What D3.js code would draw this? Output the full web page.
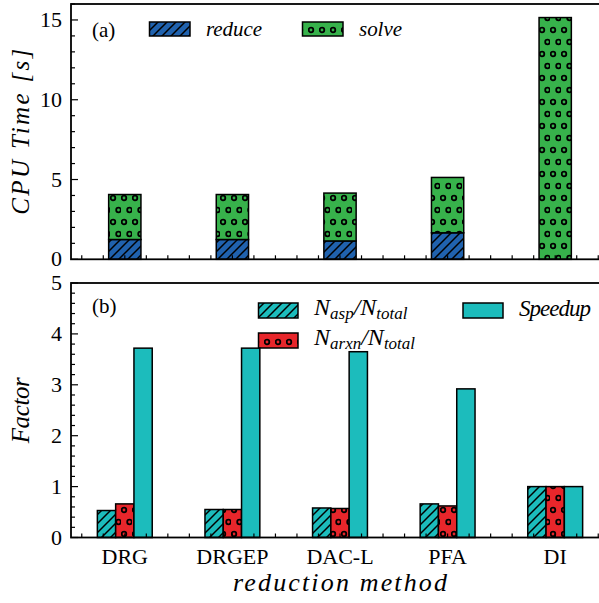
<!DOCTYPE html>
<html lang="en">
<head>
  <meta charset="UTF-8">
  <title>CPU time and speedup by reduction method</title>
  <script src="https://d3js.org/d3.v7.min.js"></script>
</head>
<body style="margin:0">
  <svg id="viz" width="599" height="603"></svg>

  <script>
    // data
    const methods = ["DRG", "DRGEP", "DAC-L", "PFA", "DI"];
    const reduceTime = [1.24, 1.24, 1.15, 1.66, 0];
    const solveTime = [2.82, 2.82, 3.0, 3.47, 15.15];
    const aspRatio = [0.53, 0.55, 0.58, 0.66, 1.0];
    const arxnRatio = [0.66, 0.55, 0.57, 0.62, 1.0];
    const speedup = [3.72, 3.72, 3.65, 2.92, 1.0];
    const topTicks = [0, 5, 10, 15];
    const botTicks = [0, 1, 2, 3, 4, 5];

    const colors = { blue: "#2062ae", green: "#37b24b", cyan: "#1cbcbc", red: "#e8262b" };
    const FONT = '"Liberation Serif"';

    const svg = d3.select("#viz");
    const defs = svg.append("defs");

    // hatch patterns (matplotlib-like "//" and "o")
    function hatchPattern(id, bg) {
      const p = defs.append("pattern").attr("id", id)
        .attr("patternUnits", "userSpaceOnUse").attr("width", 9).attr("height", 9);
      p.append("rect").attr("width", 9).attr("height", 9).attr("fill", bg);
      p.append("path").attr("d", "M-1,1 l2,-2 M0,9 l9,-9 M8,10 l2,-2")
        .attr("stroke", "#000").attr("stroke-width", 1.5);
    }
    function dotPattern(id, bg) {
      const p = defs.append("pattern").attr("id", id)
        .attr("patternUnits", "userSpaceOnUse").attr("width", 11).attr("height", 24);
      p.append("rect").attr("width", 11).attr("height", 24).attr("fill", bg);
      [[3, 6], [8.5, 18]].forEach(([cx, cy]) => {
        p.append("circle").attr("cx", cx).attr("cy", cy).attr("r", 2.3)
          .attr("fill", "none").attr("stroke", "#000").attr("stroke-width", 1.8);
      });
    }
    hatchPattern("hBlue", colors.blue);
    hatchPattern("hCyan", colors.cyan);
    dotPattern("dGreen", colors.green);
    dotPattern("dRed", colors.red);

    const x = d3.scaleLinear().domain([0.5, 5.5]).range([71, 609]);
    const yTop = d3.scaleLinear().domain([0, 16]).range([259.3, 4]);
    const yBot = d3.scaleLinear().domain([0, 5]).range([537.5, 283]);

    const minorX = d3.range(0.6, 5.5, 0.2).filter(v => Math.abs(v - Math.round(v)) > 1e-6);

    function label(sel, xPos, yPos, txt, size, italic, len) {
      const t = sel.append("text").attr("x", xPos).attr("y", yPos)
        .style("font-family", FONT).style("font-size", size + "px").text(txt);
      if (italic) t.style("font-style", "italic");
      if (len) t.attr("textLength", len).attr("lengthAdjust", "spacing");
      return t;
    }

    // ---- panel (a) ----
    const gA = svg.append("g");

    label(gA, 92, 37, "(a)", 21);
    gA.append("rect").attr("x", 149.5).attr("y", 22).attr("width", 40.5).attr("height", 14)
      .attr("fill", "url(#hBlue)").attr("stroke", "#000").attr("stroke-width", 1.5);
    label(gA, 206, 36, "reduce", 21, true, 56);
    gA.append("rect").attr("x", 302.5).attr("y", 22).attr("width", 40.5).attr("height", 14)
      .attr("fill", "url(#dGreen)").attr("stroke", "#000").attr("stroke-width", 1.5);
    label(gA, 359, 36, "solve", 21, true, 43);

    const stackRows = methods.map((m, i) => ({ m, i, reduce: reduceTime[i], solve: solveTime[i] }));
    const stacked = d3.stack().keys(["reduce", "solve"])(stackRows);
    const fillsA = { reduce: "url(#hBlue)", solve: "url(#dGreen)" };
    const wA = 0.3;

    stacked.forEach(layer => {
      gA.selectAll(null).data(layer.filter(d => d[1] - d[0] > 0)).enter().append("rect")
        .attr("x", d => x(d.data.i + 1 - wA / 2))
        .attr("y", d => yTop(d[1]))
        .attr("width", x(0.5 + wA) - x(0.5))
        .attr("height", d => yTop(d[0]) - yTop(d[1]))
        .attr("fill", fillsA[layer.key])
        .attr("stroke", "#000").attr("stroke-width", 1.5);
    });

    // inward ticks, drawn as plain lines from the scales
    function ticksY(g, scale, vals, len) {
      g.selectAll(null).data(vals).enter().append("line")
        .attr("x1", 71).attr("x2", 71 + len)
        .attr("y1", d => scale(d)).attr("y2", d => scale(d))
        .attr("stroke", "#000").attr("stroke-width", 1.2);
    }
    function ticksX(g, y0, vals, len) {
      g.selectAll(null).data(vals).enter().append("line")
        .attr("x1", d => x(d)).attr("x2", d => x(d))
        .attr("y1", y0).attr("y2", y0 - len)
        .attr("stroke", "#000").attr("stroke-width", 1.2);
    }

    ticksY(gA, yTop, topTicks, 7);
    ticksY(gA, yTop, d3.range(0, 17).filter(v => v % 5), 4);
    ticksX(gA, yTop(0), d3.range(1, 6).concat(minorX), 4);
    topTicks.forEach(v => label(gA, 62, yTop(v) + 7, String(v), 22).attr("text-anchor", "end"));
    gA.append("rect").attr("x", 71).attr("y", yTop(16)).attr("width", 538)
      .attr("height", yTop(0) - yTop(16)).attr("fill", "none").attr("stroke", "#000").attr("stroke-width", 1.8);

    label(gA, 0, 0, "CPU Time [s]", 25, true, 166)
      .attr("transform", `translate(29,${(yTop(0) + yTop(16)) / 2}) rotate(-90)`)
      .attr("text-anchor", "middle");

    // ---- panel (b) ----
    const gB = svg.append("g");

    label(gB, 92, 313, "(b)", 21);

    function subLabel(sel, xPos, yPos, sub1, sub2) {
      const t = label(sel, xPos, yPos, null, 24, true);
      t.append("tspan").text("N");
      t.append("tspan").attr("dy", 4).style("font-size", "17px").text(sub1);
      t.append("tspan").attr("dy", -4).text("/N");
      t.append("tspan").attr("dy", 4).style("font-size", "17px").text(sub2);
      return t;
    }
    gB.append("rect").attr("x", 258.5).attr("y", 303).attr("width", 39.5).attr("height", 15)
      .attr("fill", "url(#hCyan)").attr("stroke", "#000").attr("stroke-width", 1.5);
    subLabel(gB, 314, 315, "asp", "total");
    gB.append("rect").attr("x", 258.5).attr("y", 333).attr("width", 39.5).attr("height", 15)
      .attr("fill", "url(#dRed)").attr("stroke", "#000").attr("stroke-width", 1.5);
    subLabel(gB, 314, 345, "arxn", "total");
    gB.append("rect").attr("x", 463).attr("y", 303).attr("width", 40).attr("height", 15)
      .attr("fill", colors.cyan).attr("stroke", "#000").attr("stroke-width", 1.5);
    label(gB, 519, 316, "Speedup", 23, true, 72);

    const series = [
      { key: "asp", vals: aspRatio, fill: "url(#hCyan)" },
      { key: "arxn", vals: arxnRatio, fill: "url(#dRed)" },
      { key: "speedup", vals: speedup, fill: colors.cyan }
    ];
    const sub = d3.scaleBand().domain(series.map(s => s.key)).range([-0.255, 0.255]);

    series.forEach(s => {
      gB.selectAll(null).data(s.vals).enter().append("rect")
        .attr("x", (d, i) => x(i + 1 + sub(s.key)))
        .attr("y", d => yBot(d))
        .attr("width", x(0.5 + sub.bandwidth()) - x(0.5))
        .attr("height", d => yBot(0) - yBot(d))
        .attr("fill", s.fill)
        .attr("stroke", "#000").attr("stroke-width", 1.5);
    });

    ticksY(gB, yBot, botTicks, 7);
    ticksY(gB, yBot, d3.range(0.2, 5, 0.2).filter(v => Math.abs(v - Math.round(v)) > 1e-6), 4);
    ticksX(gB, yBot(0), d3.range(1, 6).concat(minorX), 4);
    botTicks.forEach(v => label(gB, 62, yBot(v) + 7, String(v), 22).attr("text-anchor", "end"));
    methods.forEach((m, i) => label(gB, x(i + 1), 564, m, 22).attr("text-anchor", "middle"));
    gB.append("rect").attr("x", 71).attr("y", yBot(5)).attr("width", 538)
      .attr("height", yBot(0) - yBot(5)).attr("fill", "none").attr("stroke", "#000").attr("stroke-width", 1.8);

    label(gB, 0, 0, "Factor", 25, true, 66)
      .attr("transform", `translate(29,${(yBot(0) + yBot(5)) / 2}) rotate(-90)`)
      .attr("text-anchor", "middle");

    label(svg, 340, 591, "reduction method", 26, true, 214).attr("text-anchor", "middle");
  </script>
</body>
</html>
